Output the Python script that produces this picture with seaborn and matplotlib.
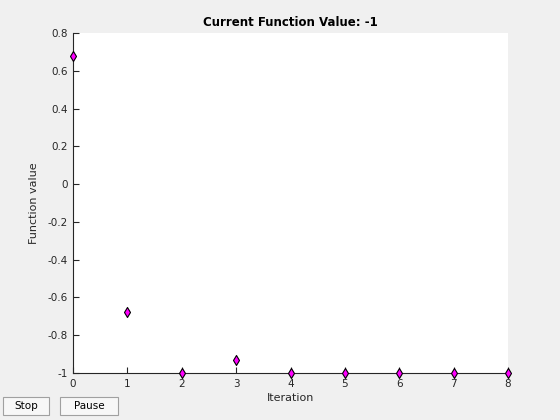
import matplotlib
matplotlib.use("Agg")
import matplotlib.pyplot as plt
import seaborn as sns
import pandas as pd
from matplotlib.patches import Rectangle

iterations = [0, 1, 2, 3, 4, 5, 6, 7, 8]
fvals = [0.68, -0.675, -1.0, -0.93, -1.0, -1.0, -1.0, -1.0, -1.0]
yticks = [-1, -0.8, -0.6, -0.4, -0.2, 0, 0.2, 0.4, 0.6, 0.8]
yticklabels = ["-1", "-0.8", "-0.6", "-0.4", "-0.2", "0", "0.2", "0.4", "0.6", "0.8"]
xticks = [0, 1, 2, 3, 4, 5, 6, 7, 8]

sns.set_style("white")
plt.rcParams['font.family'] = ['DejaVu Sans']

df = pd.DataFrame({"Iteration": iterations, "Function value": fvals})

fig = plt.figure(figsize=(5.6, 4.2), dpi=100, facecolor="#f0f0f0")
ax = fig.add_axes([73/560, 47/420, 435/560, 340/420])
ax.set_facecolor("white")

sns.scatterplot(data=df, x="Iteration", y="Function value", ax=ax, marker="d",
                color="#ff00ff", edgecolor="black", linewidth=0.8, s=26, clip_on=False, zorder=5)

ax.set_xlim(0, 8)
ax.set_ylim(-1, 0.8)
ax.set_xticks(xticks)
ax.set_xticklabels([str(t) for t in xticks])
ax.set_yticks(yticks)
ax.set_yticklabels(yticklabels)
ax.tick_params(direction="in", length=4, width=0.8, labelsize=7.5, colors="#262626",
               labelcolor="#262626", pad=4, bottom=True, left=True)
for s in ["top", "right"]:
    ax.spines[s].set_visible(False)
for s in ["left", "bottom"]:
    ax.spines[s].set_color("#262626")
    ax.spines[s].set_linewidth(0.8)

ax.set_xlabel("Iteration", fontsize=8, color="#262626", labelpad=3)
ax.set_ylabel("Function value", fontsize=8, color="#262626", labelpad=6)
ax.set_title("Current Function Value: -1", fontsize=8.5, fontweight="bold", color="black", pad=5)

def button(x0, y0, w, h, label):
    fig.patches.append(Rectangle((x0/560, 1 - (y0+h)/420), w/560, h/420,
                                 transform=fig.transFigure, facecolor="#f7f7f7",
                                 edgecolor="#a0a0a0", linewidth=0.8))
    fig.text((x0 + w/2)/560, 1 - (y0 + h/2)/420, label, ha="center", va="center",
             fontsize=7.5, color="black")

button(3, 397, 46, 18, "Stop")
button(60, 397, 58, 18, "Pause")

fig.savefig("out.png", dpi=100, facecolor=fig.get_facecolor())
